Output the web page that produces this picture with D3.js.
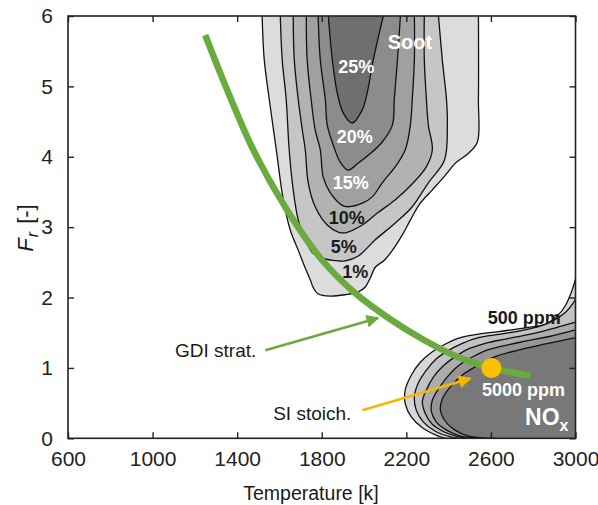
<!DOCTYPE html>
<html>
<head>
<meta charset="utf-8">
<script src="https://cdn.jsdelivr.net/npm/d3@7/dist/d3.min.js"></script>
<style>
  body { margin: 0; background: #fff; }
  svg { display: block; font-family: "Liberation Sans", Arial, sans-serif; }
</style>
</head>
<body>
<svg id="chart" width="598" height="505"></svg>
<script>
// axis ticks
const tempTicks = [600, 1000, 1400, 1800, 2200, 2600, 3000];
const frTicks = [0, 1, 2, 3, 4, 5, 6];

// soot contours [temperature K, Fr] (open at Fr = 6)
const sootLevels = ["1%", "5%", "10%", "15%", "20%", "25%"];
const soot1 = [[1518,6],[1528,5.38],[1552,4.81],[1585,4.10],[1618,3.39],[1651,2.96],[1689,2.67],[1722,2.42],[1746,2.25],[1760,2.14],[1783,2.05],[1840,2.02],[1911,2.04],[1973,2.08],[2006,2.15],[2030,2.28],[2053,2.43],[2096,2.53],[2134,2.67],[2181,2.89],[2219,3.10],[2266,3.34],[2323,3.53],[2385,3.74],[2432,3.91],[2494,4.05],[2536,4.21],[2541,4.81],[2541,6]];
const soot5 = [[1604,6],[1613,5.38],[1632,4.81],[1646,4.10],[1665,3.53],[1689,3.10],[1722,2.82],[1755,2.64],[1802,2.56],[1878,2.52],[1911,2.52],[1973,2.59],[2053,2.82],[2148,3.06],[2228,3.29],[2304,3.63],[2380,3.95],[2394,4.45],[2390,4.81],[2370,5.38],[2352,6]];
const soot10 = [[1665,6],[1670,5.38],[1689,4.81],[1708,4.38],[1722,4.10],[1736,3.63],[1769,3.29],[1826,3.03],[1878,2.93],[1911,2.92],[1992,3.03],[2063,3.20],[2148,3.39],[2233,3.63],[2295,3.86],[2323,4.10],[2304,4.45],[2295,4.81],[2285,5.38],[2285,6]];
const soot15 = [[1727,6],[1731,5.38],[1750,4.81],[1769,4.38],[1793,4.10],[1807,3.71],[1840,3.49],[1897,3.31],[1925,3.29],[1992,3.34],[2039,3.43],[2086,3.63],[2148,3.86],[2195,4.10],[2219,4.45],[2228,4.81],[2238,5.38],[2238,6]];
const soot20 = [[1783,6],[1793,5.38],[1817,4.81],[1826,4.45],[1854,4.17],[1888,3.92],[1925,3.81],[1973,3.91],[2020,4.02],[2086,4.21],[2134,4.45],[2143,4.81],[2158,5.38],[2172,6]];
const soot25 = [[1831,6],[1850,5.38],[1873,4.91],[1902,4.62],[1944,4.48],[1992,4.67],[2015,4.91],[2044,5.38],[2091,6]];
const sootLabelPos = [[1959,2.36],[1904,2.72],[1918,3.13],[1937,3.63],[1956,4.28],[1963,5.28]];

// NOx contours, from the right edge round to the bottom edge
const nox500 = [[3000,2.26],[2981,2.08],[2953,1.89],[2915,1.74],[2858,1.62],[2763,1.57],[2645,1.52],[2541,1.48],[2456,1.43],[2385,1.34],[2323,1.23],[2266,1.08],[2224,0.90],[2195,0.69],[2195,0.49],[2224,0.30],[2276,0.15],[2337,0.05],[2385,0]];
const nox1000 = [[3000,1.97],[2953,1.79],[2882,1.65],[2777,1.55],[2645,1.48],[2541,1.43],[2465,1.35],[2399,1.25],[2342,1.13],[2295,0.97],[2257,0.79],[2238,0.59],[2247,0.40],[2281,0.23],[2337,0.10],[2408,0.02],[2446,0]];
const nox2000 = [[3000,1.65],[2905,1.57],[2787,1.48],[2669,1.41],[2574,1.35],[2494,1.27],[2432,1.16],[2375,1.03],[2328,0.87],[2295,0.69],[2276,0.52],[2290,0.35],[2323,0.20],[2380,0.09],[2446,0.02],[2503,0]];
const nox3000 = [[3000,1.54],[2882,1.45],[2763,1.38],[2654,1.31],[2569,1.24],[2503,1.14],[2446,1.03],[2399,0.89],[2356,0.72],[2323,0.54],[2318,0.39],[2342,0.23],[2389,0.12],[2456,0.03],[2560,0]];
const nox5000 = [[3000,1.43],[2858,1.34],[2725,1.25],[2621,1.16],[2541,1.04],[2465,0.90],[2408,0.73],[2370,0.56],[2361,0.40],[2380,0.26],[2423,0.13],[2494,0.03],[2621,0]];

// GDI stratified path and SI stoichiometric point
const gdiPath = [[1249,5.73],[1343,5.02],[1476,4.10],[1641,3.22],[1802,2.53],[1959,2.06],[2110,1.72],[2281,1.40],[2441,1.16],[2602,1.00],[2787,0.89]];
const siPoint = [2602, 1.00];
const gdiArrow = [[1533,1.25],[2067,1.71]];
const siArrow = [[1992,0.40],[2503,0.85]];

const svg = d3.select('#chart');
const x = d3.scaleLinear().domain([600, 3000]).range([68, 575.5]);
const y = d3.scaleLinear().domain([0, 6]).range([438.3, 16]);

const line = d3.line().x(d => x(d[0])).y(d => y(d[1])).curve(d3.curveCatmullRom.alpha(0.5));

svg.append('rect').attr('width', 598).attr('height', 505).attr('fill', '#fff');

svg.append('clipPath').attr('id', 'plot')
  .append('rect').attr('x', x(600)).attr('y', y(6))
  .attr('width', x(3000) - x(600)).attr('height', y(0) - y(6));

const plot = svg.append('g').attr('clip-path', 'url(#plot)');

// soot
const sootShapes = [soot1, soot5, soot10, soot15, soot20, soot25];
const sootFill = ['#dcdcdc', '#c6c6c6', '#b2b2b2', '#a0a0a0', '#8c8c8c', '#6f6f6f'];
sootShapes.forEach((pts, i) => {
  plot.append('path').attr('d', line(pts) + 'Z').attr('fill', sootFill[i]);
  plot.append('path').attr('d', line(pts)).attr('fill', 'none')
    .attr('stroke', '#111').attr('stroke-width', 1.3);
});

// NOx
const noxShapes = [nox500, nox1000, nox2000, nox3000, nox5000];
const noxFill = ['#d8d8d8', '#c2c2c2', '#acacac', '#969696', '#787878'];
noxShapes.forEach((pts, i) => {
  plot.append('path').attr('d', line(pts) + `L${x(3000)},${y(0)}Z`).attr('fill', noxFill[i]);
  plot.append('path').attr('d', line(pts)).attr('fill', 'none')
    .attr('stroke', '#111').attr('stroke-width', 1.3);
});

// axes: labelled left/bottom, inward ticks on all four sides
svg.append('g').attr('transform', `translate(0,${y(0)})`)
  .call(d3.axisBottom(x).tickValues(tempTicks).tickSize(-6).tickPadding(13).tickFormat(d3.format('d')));
svg.append('g').attr('transform', `translate(${x(600)},0)`)
  .call(d3.axisLeft(y).tickValues(frTicks).tickSize(-6).tickPadding(15).tickFormat(d3.format('d')));
svg.append('g').attr('transform', `translate(0,${y(6)})`)
  .call(d3.axisTop(x).tickValues(tempTicks).tickSize(-6).tickFormat(''));
svg.append('g').attr('transform', `translate(${x(3000)},0)`)
  .call(d3.axisRight(y).tickValues(frTicks).tickSize(-6).tickFormat(''));
svg.selectAll('.domain').remove();
svg.selectAll('.tick line').attr('stroke', '#222').attr('stroke-width', 1.4);
svg.selectAll('.tick text').attr('fill', '#222').style('font-size', '21px');

svg.append('rect').attr('x', x(600)).attr('y', y(6))
  .attr('width', x(3000) - x(600)).attr('height', y(0) - y(6))
  .attr('fill', 'none').attr('stroke', '#222').attr('stroke-width', 1.6);

// contour labels
sootLevels.forEach((lab, i) => {
  svg.append('text')
    .attr('x', x(sootLabelPos[i][0])).attr('y', y(sootLabelPos[i][1]))
    .attr('text-anchor', 'middle').attr('dominant-baseline', 'central')
    .attr('font-weight', 'bold').style('font-size', '18px')
    .attr('fill', i >= 3 ? '#fff' : '#1a1a1a')
    .text(lab);
});
svg.append('text').attr('x', x(2217)).attr('y', y(5.63))
  .attr('text-anchor', 'middle').attr('dominant-baseline', 'central')
  .attr('font-weight', 'bold').style('font-size', '20px').attr('fill', '#fff')
  .text('Soot');
svg.append('text').attr('x', x(2758)).attr('y', y(1.71))
  .attr('text-anchor', 'middle').attr('dominant-baseline', 'central')
  .attr('font-weight', 'bold').style('font-size', '18px').attr('fill', '#1a1a1a')
  .text('500 ppm');
svg.append('text').attr('x', x(2754)).attr('y', y(0.69))
  .attr('text-anchor', 'middle').attr('dominant-baseline', 'central')
  .attr('font-weight', 'bold').style('font-size', '18px').attr('fill', '#fff')
  .text('5000 ppm');
const nox = svg.append('text').attr('x', x(3000) - 7).attr('y', y(0.19))
  .attr('text-anchor', 'end').attr('font-weight', 'bold').attr('fill', '#fff')
  .style('font-size', '23px');
nox.append('tspan').text('NO');
nox.append('tspan').attr('dy', 6).style('font-size', '16px').text('x');

// GDI curve and SI point
svg.append('path').attr('d', line(gdiPath)).attr('fill', 'none')
  .attr('stroke', '#6aab40').attr('stroke-width', 6.5).attr('stroke-linecap', 'butt');
svg.append('circle').attr('cx', x(siPoint[0])).attr('cy', y(siPoint[1])).attr('r', 10)
  .attr('fill', '#ffc000');

// arrows
const defs = svg.append('defs');
[['gdi', '#6aab40'], ['si', '#f5b800']].forEach(([id, c]) => {
  defs.append('marker').attr('id', 'arr-' + id).attr('viewBox', '0 0 10 10')
    .attr('refX', 9).attr('refY', 5).attr('markerWidth', 5).attr('markerHeight', 5)
    .attr('markerUnits', 'strokeWidth').attr('orient', 'auto')
    .append('path').attr('d', 'M0,0L10,5L0,10Z').attr('fill', c);
});
const straight = d3.line().x(d => x(d[0])).y(d => y(d[1]));
svg.append('path').attr('d', straight(gdiArrow))
  .attr('stroke', '#6aab40').attr('stroke-width', 2.6).attr('fill', 'none')
  .attr('marker-end', 'url(#arr-gdi)');
svg.append('path').attr('d', straight(siArrow))
  .attr('stroke', '#f5b800').attr('stroke-width', 2.6).attr('fill', 'none')
  .attr('marker-end', 'url(#arr-si)');

svg.append('text').attr('x', x(gdiArrow[0][0]) - 9).attr('y', y(gdiArrow[0][1]))
  .attr('text-anchor', 'end').attr('dominant-baseline', 'central')
  .style('font-size', '19px').attr('fill', '#1a1a1a').text('GDI strat.');
svg.append('text').attr('x', x(siArrow[0][0]) - 11).attr('y', y(siArrow[0][1]) + 3)
  .attr('text-anchor', 'end').attr('dominant-baseline', 'central')
  .style('font-size', '19px').attr('fill', '#1a1a1a').text('SI stoich.');

// axis titles
svg.append('text').attr('x', 311).attr('y', 500)
  .attr('text-anchor', 'middle').style('font-size', '19.5px').attr('fill', '#1a1a1a')
  .text('Temperature [k]');
const yt = svg.append('text').attr('transform', 'translate(33,228) rotate(-90)')
  .attr('text-anchor', 'middle').style('font-size', '22px').attr('fill', '#1a1a1a');
yt.append('tspan').attr('font-style', 'italic').text('F');
yt.append('tspan').attr('font-style', 'italic').attr('dx', 1).attr('dy', 5).style('font-size', '16px').text('r');
yt.append('tspan').attr('dx', 2).attr('dy', -5).text(' [-]');
</script>
</body>
</html>
